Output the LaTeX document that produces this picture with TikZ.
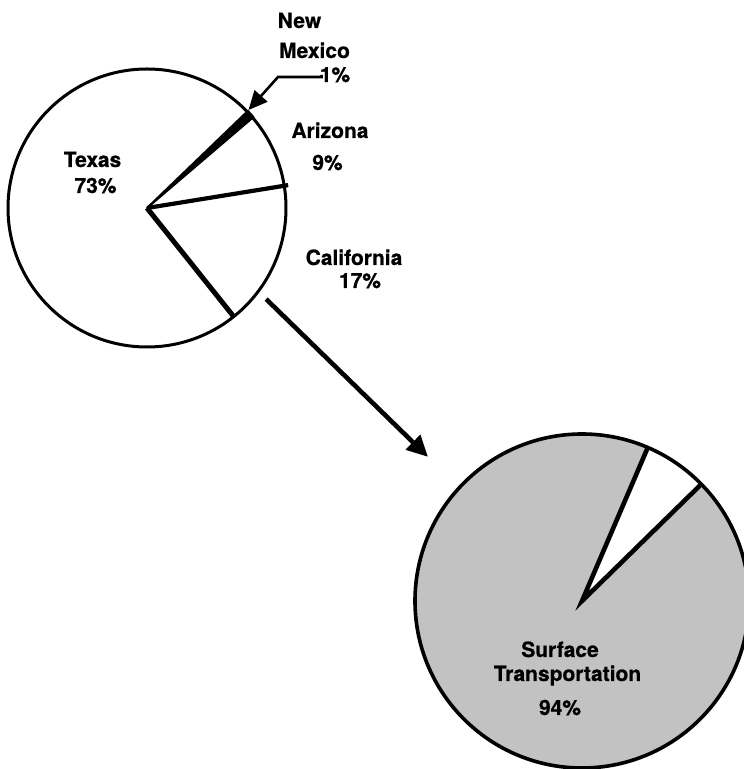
\documentclass[tikz,border=0pt]{standalone}
\usepackage{fontspec}
\setmainfont{TeX Gyre Heros}[BoldFeatures={FakeBold=0.6}]
\usetikzlibrary{arrows.meta,calc}
\begin{document}
\begin{tikzpicture}[x=1pt,y=1pt,
  lbl/.style={font=\fontsize{21}{25}\selectfont\bfseries, inner sep=0pt, anchor=base},
  rim/.style={line width=3pt},
  bigrim/.style={line width=3.6pt},
  spoke/.style={line width=4.6pt},
  shade/.style={fill=black!24},
  pointer/.style={line width=2.6pt, -{Triangle[length=19pt,width=17pt]}},
  bigarrow/.style={line width=4.6pt, -{Triangle[length=21pt,width=20pt]}}]
\useasboundingbox (0,0) rectangle (744,769);

% ---- state pie ----
\coordinate (c1) at (147,561);
\draw[rim, fill=white] (c1) circle[radius=139pt];
% California / Texas boundary
\draw[line width=5pt] (c1) -- ($(c1)+(-51.4:139pt)$);
% Arizona / California boundary
\draw[line width=4.2pt] (c1) -- ($(c1)+(9.2:143pt)$);
% New Mexico sliver
\filldraw[line width=2pt, line join=round]
  (c1) -- ($(c1)+(40.5:140pt)$) arc[start angle=40.5, end angle=43.9, radius=140pt] -- cycle;

\node[lbl] (texas) at (92.5,602) {Texas};
\node[lbl] (texaspct) at (95.5,576) {73\%};
\node[lbl] (nmnew) at (299.5,741) {New};
\node[lbl] (nmmexico) at (314.5,711) {Mexico};
\node[lbl] (nmpct) at (335,687) {1\%};
\node[lbl] (arizona) at (330,631) {Arizona};
\node[lbl] (azpct) at (327.5,599) {9\%};
\node[lbl] (california) at (354,504) {California};
\node[lbl] (capct) at (360,481) {17\%};

% leader to the New Mexico sliver
\coordinate (nmknee) at (278,692);
\coordinate (nmtip) at ($(c1)+(44:141pt)$);
\draw[pointer] ($(nmpct.west)+(2,0)$) |- (nmknee) -- (nmtip);

% ---- transportation pie ----
\coordinate (c2) at (582,168);
\fill[shade] (c2) circle[radius=167pt];
\fill[white] (c2) -- ($(c2)+(44.4:167pt)$) arc[start angle=44.4, end angle=66.8, radius=167pt] -- cycle;
\draw[bigrim] (c2) circle[radius=167pt];
\draw[spoke] ($(c2)+(44.4:167pt)$) -- (c2) -- ($(c2)+(66.8:167pt)$);

\node[lbl] (surface) at (560,112) {Surface};
\node[lbl] (transport) at (567.5,88) {Transportation};
\node[lbl] (stpct) at (560,54) {94\%};

% link from California slice to the breakdown pie
\coordinate (linkfrom) at ($(c1)+(-37.4:150pt)$);
\coordinate (linkto) at ($(c2)+(136.9:211pt)$);
\draw[bigarrow] (linkfrom) -- (linkto);
\end{tikzpicture}
\end{document}
